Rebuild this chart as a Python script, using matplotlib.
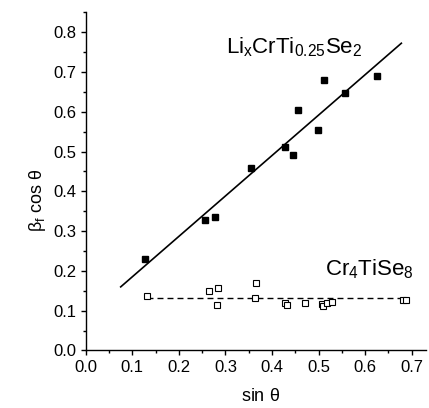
import numpy as np
import matplotlib.pyplot as plt
from matplotlib.ticker import MultipleLocator

plt.rcParams['font.family'] = ['Liberation Sans', 'DejaVu Sans']
plt.rcParams['mathtext.fontset'] = 'custom'
plt.rcParams['mathtext.rm'] = 'Liberation Sans'
plt.rcParams['mathtext.it'] = 'Liberation Sans'

# LixCrTi0.25Se2 (quadrados cheios)
sin_li = [0.127, 0.256, 0.278, 0.355, 0.428, 0.446, 0.456, 0.498, 0.511, 0.557, 0.626]
bcos_li = [0.229, 0.328, 0.335, 0.459, 0.511, 0.492, 0.604, 0.555, 0.681, 0.648, 0.689]

# Cr4TiSe8 (quadrados vazios)
sin_cr = [0.131, 0.264, 0.283, 0.282, 0.365, 0.363, 0.429, 0.432, 0.472,
          0.508, 0.510, 0.519, 0.529, 0.681, 0.688]
bcos_cr = [0.136, 0.149, 0.158, 0.114, 0.169, 0.131, 0.119, 0.115, 0.119,
           0.117, 0.112, 0.120, 0.122, 0.128, 0.128]

# ajuste linear do LixCrTi0.25Se2
a, b = np.polyfit(sin_li, bcos_li, 1)
x_fit = np.array([0.075, 0.678])

# nivel medio do Cr4TiSe8
nivel = np.mean(bcos_cr) + 0.003
x_cr = np.array([min(sin_cr), max(sin_cr)])

fig = plt.figure(figsize=(4.29, 4.08), dpi=100)
ax = fig.add_axes([0.2, 0.141, 0.792, 0.8286])

ax.plot(x_fit, a * x_fit + b, color='black', lw=1.2, zorder=2)
ax.plot(sin_li, bcos_li, 's', color='black', ms=4.4, zorder=3)

ax.plot(x_cr, [nivel, nivel], color='black', lw=1.0, dashes=[4.3, 2.9], zorder=2)
ax.plot(sin_cr, bcos_cr, 's', mfc='white', mec='black', mew=0.8, ms=4.2, zorder=3)

ax.text(0.301, 0.748, r'$\mathregular{Li_xCrTi_{0.25}Se_2}$', fontsize=16)
ax.text(0.514, 0.188, r'$\mathregular{Cr_4TiSe_8}$', fontsize=16)

ax.set_xlim(0, 0.73)
ax.set_ylim(0, 0.85)
ax.xaxis.set_major_locator(MultipleLocator(0.1))
ax.xaxis.set_minor_locator(MultipleLocator(0.05))
ax.yaxis.set_major_locator(MultipleLocator(0.1))
ax.yaxis.set_minor_locator(MultipleLocator(0.05))
ax.xaxis.set_major_formatter(lambda v, p: f"{v:.1f}")
ax.yaxis.set_major_formatter(lambda v, p: f"{v:.1f}")

for s in ['top', 'right']:
    ax.spines[s].set_visible(False)
for s in ['left', 'bottom']:
    ax.spines[s].set_linewidth(1.0)
ax.tick_params(which='major', direction='out', length=3.6, width=1.0, labelsize=12, pad=3)
ax.tick_params(which='minor', direction='out', length=2.0, width=1.0)

ax.set_xlabel(r'sin $\mathregular{\theta}$', fontsize=13)
ax.set_ylabel(r'$\mathregular{\beta_f}$ cos $\mathregular{\theta}$', fontsize=13)
ax.xaxis.set_label_coords(0.515, -0.111)
ax.yaxis.set_label_coords(-0.111, 0.444)

fig.savefig("out.png", dpi=100)
